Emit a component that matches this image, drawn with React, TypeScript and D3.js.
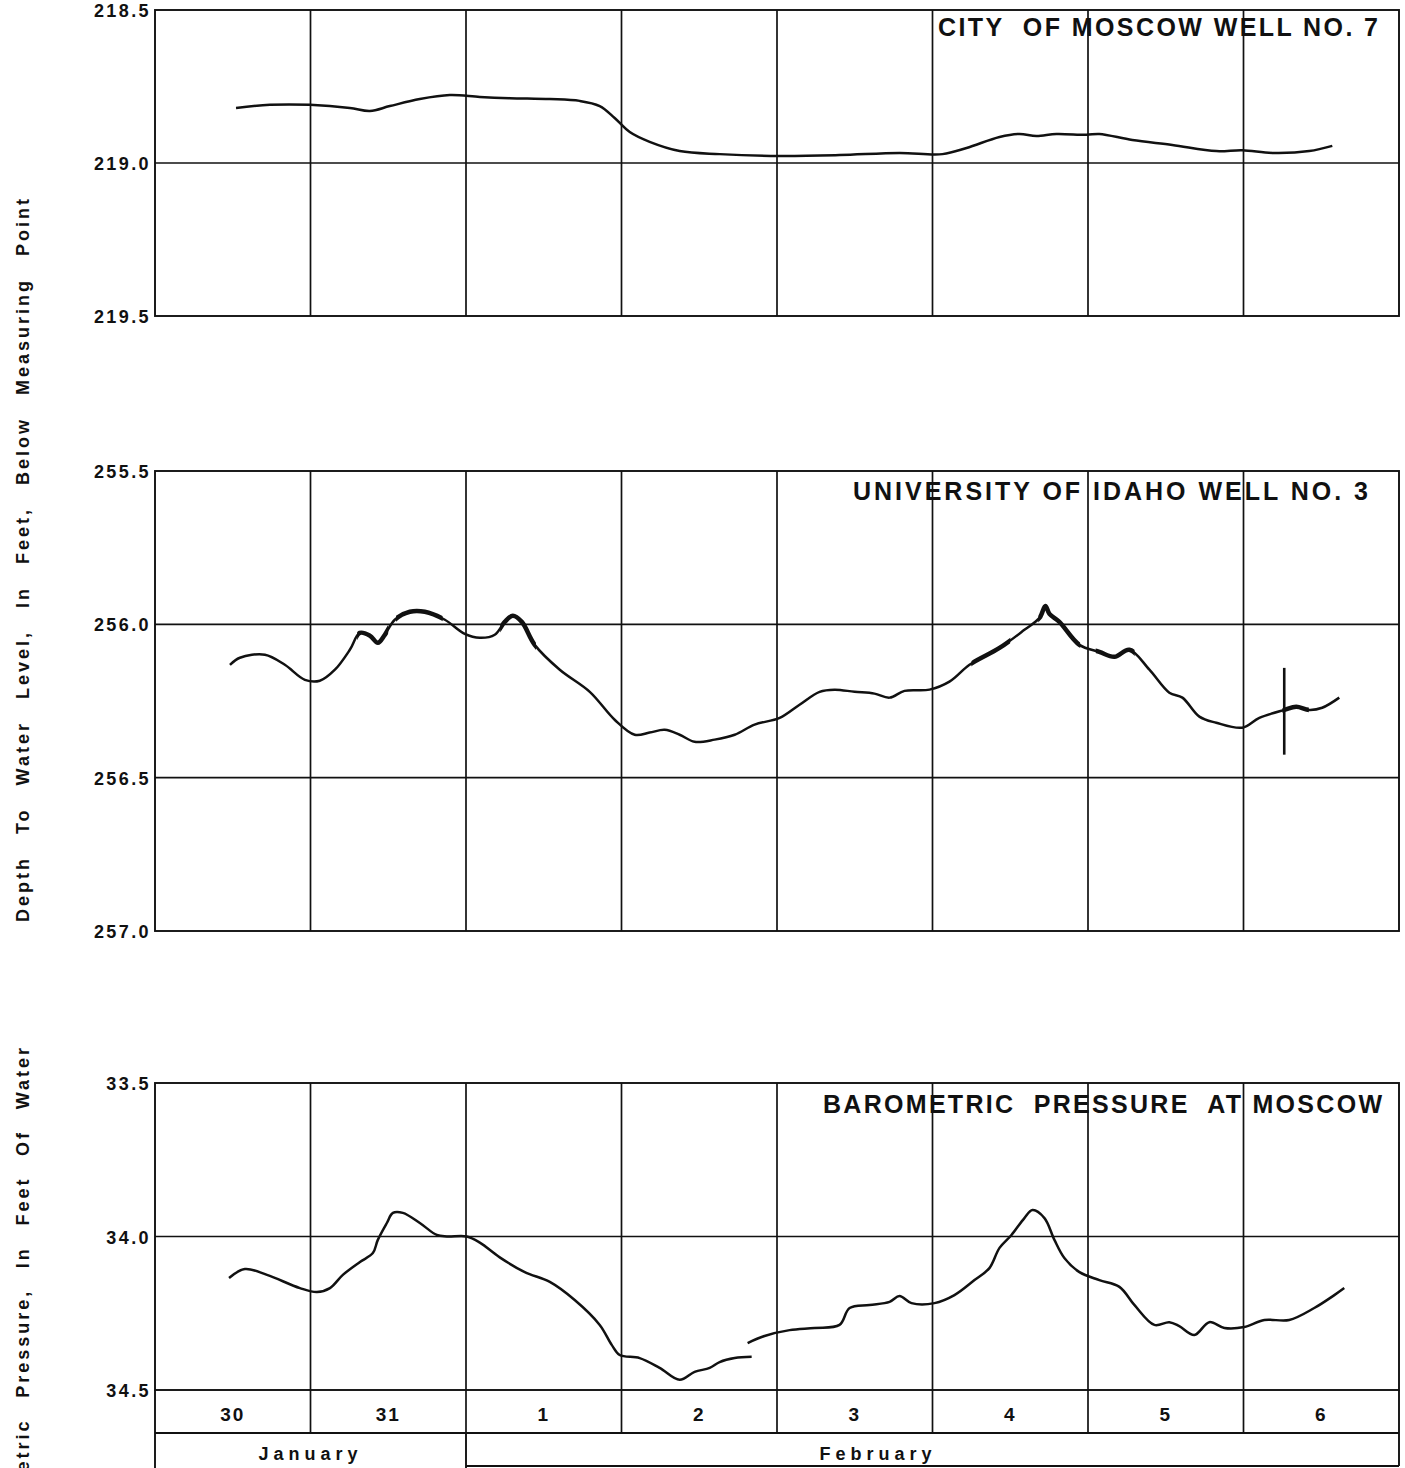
import React from 'react';
import * as d3 from 'd3';

// ---------- DATA ----------
// x = days elapsed since 00:00 January 30
const dayLabels = ['30', '31', '1', '2', '3', '4', '5', '6'];
const monthNames = ['January', 'February'];
const monthStartDay = [0, 2];

const well7Ticks = [218.5, 219.0, 219.5];
const well3Ticks = [255.5, 256.0, 256.5, 257.0];
const baroTicks = [33.5, 34.0, 34.5];

const well7Title = 'CITY  OF MOSCOW WELL NO. 7';
const well3Title = 'UNIVERSITY OF IDAHO WELL NO. 3';
const baroTitle = 'BAROMETRIC  PRESSURE  AT MOSCOW';

const well7Depth: [number, number][] = [
  [0.521, 218.82], [0.739, 218.81], [0.996, 218.81], [1.253, 218.82], [1.382, 218.83],
  [1.51, 218.814], [1.703, 218.791], [1.896, 218.778], [2.089, 218.784], [2.282, 218.788],
  [2.539, 218.791], [2.731, 218.797], [2.86, 218.814], [2.956, 218.853], [3.053, 218.899],
  [3.181, 218.931], [3.374, 218.961], [3.631, 218.971], [4.017, 218.977], [4.402, 218.974],
  [4.788, 218.967], [5.064, 218.971], [5.219, 218.951], [5.431, 218.915], [5.559, 218.905],
  [5.668, 218.912], [5.797, 218.905], [5.99, 218.908], [6.073, 218.905], [6.285, 218.925],
  [6.542, 218.941], [6.825, 218.961], [6.992, 218.958], [7.185, 218.967], [7.423, 218.961],
  [7.571, 218.944],
];

const well3Depth: [number, number][] = [
  [0.482, 256.132], [0.546, 256.109], [0.707, 256.099], [0.835, 256.132], [0.964, 256.181],
  [1.06, 256.184], [1.157, 256.148], [1.253, 256.083], [1.317, 256.028], [1.382, 256.037],
  [1.433, 256.06], [1.478, 256.034], [1.542, 255.985], [1.639, 255.959], [1.735, 255.959],
  [1.864, 255.985], [1.992, 256.031], [2.089, 256.044], [2.185, 256.034], [2.249, 255.992],
  [2.301, 255.972], [2.359, 255.992], [2.442, 256.067], [2.603, 256.148], [2.796, 256.22],
  [2.956, 256.311], [3.085, 256.36], [3.181, 256.353], [3.278, 256.344], [3.374, 256.36],
  [3.47, 256.383], [3.599, 256.376], [3.728, 256.36], [3.856, 256.327], [4.017, 256.305],
  [4.145, 256.262], [4.274, 256.22], [4.37, 256.213], [4.499, 256.22], [4.627, 256.226],
  [4.724, 256.239], [4.82, 256.217], [4.981, 256.213], [5.109, 256.187], [5.238, 256.132],
  [5.431, 256.077], [5.591, 256.018], [5.688, 255.979], [5.726, 255.94], [5.752, 255.966],
  [5.816, 255.992], [5.945, 256.067], [6.073, 256.09], [6.17, 256.106], [6.266, 256.083],
  [6.395, 256.148], [6.523, 256.223], [6.607, 256.239], [6.716, 256.301], [6.825, 256.321],
  [6.992, 256.337], [7.102, 256.305], [7.262, 256.279], [7.339, 256.269], [7.423, 256.279],
  [7.506, 256.272], [7.616, 256.239],
];
// recorder disturbance (vertical stroke) on Feb 6
const well3Spike: [number, number][] = [[7.262, 256.142], [7.262, 256.425]];
// day ranges where the recorder trace is thick / noisy
const well3NoisyRanges: [number, number][] = [
  [1.3, 1.5], [1.55, 1.85], [2.22, 2.45], [5.25, 5.5], [5.68, 5.95], [6.05, 6.3], [7.25, 7.42],
];

const baroSegment1: [number, number][] = [
  [0.476, 34.135], [0.578, 34.106], [0.72, 34.125], [0.932, 34.168], [1.041, 34.181],
  [1.125, 34.168], [1.208, 34.125], [1.318, 34.083], [1.401, 34.054], [1.433, 34.011],
  [1.491, 33.956], [1.53, 33.923], [1.594, 33.923], [1.703, 33.956], [1.812, 33.995],
  [1.877, 34.0], [2.005, 34.0], [2.089, 34.02], [2.217, 34.068], [2.378, 34.116],
  [2.539, 34.148], [2.699, 34.207], [2.86, 34.288], [2.937, 34.353], [2.988, 34.386],
  [3.117, 34.396], [3.245, 34.428], [3.374, 34.467], [3.47, 34.441], [3.567, 34.428],
  [3.631, 34.409], [3.728, 34.396], [3.837, 34.392],
];
const baroSegment2: [number, number][] = [
  [3.811, 34.347], [3.92, 34.324], [4.081, 34.305], [4.242, 34.298], [4.402, 34.288],
  [4.467, 34.233], [4.595, 34.223], [4.724, 34.213], [4.788, 34.194], [4.865, 34.217],
  [5.013, 34.217], [5.141, 34.191], [5.27, 34.142], [5.366, 34.103], [5.431, 34.037],
  [5.508, 33.995], [5.591, 33.94], [5.643, 33.914], [5.72, 33.94], [5.784, 34.011],
  [5.848, 34.07], [5.945, 34.116], [6.073, 34.142], [6.202, 34.164], [6.298, 34.223],
  [6.427, 34.288], [6.523, 34.279], [6.587, 34.292], [6.684, 34.321], [6.78, 34.279],
  [6.877, 34.298], [7.005, 34.295], [7.134, 34.272], [7.294, 34.272], [7.455, 34.233],
  [7.584, 34.191], [7.648, 34.168],
];

const yTitle1 = 'Depth  To  Water  Level,  In  Feet,  Below  Measuring  Point';
const yTitle2 = 'Barometric  Pressure,  In  Feet  Of  Water';

// ---------- LAYOUT ----------
const W = 1405;
const H = 1468;
const X0 = 155;
const X1 = 1399;
const FONT = '"Liberation Sans", Arial, "DejaVu Sans", sans-serif';

const x = d3.scaleLinear().domain([0, 8]).range([X0, X1]);

type Panel = {
  ticks: number[];
  top: number;
  bottom: number;
  title: string;
  titleX0: number;
  titleX1: number;
  titleY: number;
};

const panels: Panel[] = [
  { ticks: well7Ticks, top: 10, bottom: 316, title: well7Title, titleX0: 938, titleX1: 1378, titleY: 36 },
  { ticks: well3Ticks, top: 471, bottom: 931, title: well3Title, titleX0: 853, titleX1: 1368, titleY: 500 },
  { ticks: baroTicks, top: 1083, bottom: 1390, title: baroTitle, titleX0: 823, titleX1: 1382, titleY: 1113 },
];

const yScale = (p: Panel) =>
  d3.scaleLinear().domain([p.ticks[0], p.ticks[p.ticks.length - 1]]).range([p.top, p.bottom]);

const STROKE = '#111';

function PanelFrame({ p }: { p: Panel }) {
  const y = yScale(p);
  const days = d3.range(1, 8);
  return (
    <g>
      {p.ticks.slice(1, -1).map((t) => (
        <line key={'h' + t} x1={X0} x2={X1} y1={y(t)} y2={y(t)} stroke={STROKE} strokeWidth={1.7} />
      ))}
      {days.map((d) => (
        <line key={'v' + d} x1={x(d)} x2={x(d)} y1={p.top} y2={p.bottom} stroke={STROKE} strokeWidth={1.7} />
      ))}
      <rect x={X0} y={p.top} width={X1 - X0} height={p.bottom - p.top} fill="none" stroke={STROKE} strokeWidth={1.9} />
      {p.ticks.map((t) => (
        <text
          key={'t' + t}
          x={151}
          y={y(t) + 7}
          textAnchor="end"
          fontFamily={FONT}
          fontWeight="bold"
          fontSize={18}
          letterSpacing={2.4}
          fill={STROKE}
        >
          {t.toFixed(1)}
        </text>
      ))}
      <text
        x={p.titleX0}
        y={p.titleY}
        fontFamily={FONT}
        fontWeight="bold"
        fontSize={25}
        textLength={p.titleX1 - p.titleX0}
        lengthAdjust="spacing"
        style={{ whiteSpace: 'pre' }}
        fill={STROKE}
      >
        {p.title}
      </text>
    </g>
  );
}

export default function App() {
  const [p1, p2, p3] = panels;
  const y1 = yScale(p1);
  const y2 = yScale(p2);
  const y3 = yScale(p3);
  const curve = d3.curveCatmullRom.alpha(0.5);
  const line1 = d3.line<[number, number]>().x((d) => x(d[0])).y((d) => y1(d[1])).curve(curve);
  const line2 = d3.line<[number, number]>().x((d) => x(d[0])).y((d) => y2(d[1])).curve(curve);
  const line3 = d3.line<[number, number]>().x((d) => x(d[0])).y((d) => y3(d[1])).curve(curve);
  const lineStraight2 = d3.line<[number, number]>().x((d) => x(d[0])).y((d) => y2(d[1]));

  const dateTop = p3.bottom;
  const dateBottom = 1433;
  const monthBottom = 1466;
  const monthLabelCenter = [1, 4.65];

  return (
    <svg
      width={W}
      height={H}
      style={{ position: 'absolute', left: 0, top: 0, background: '#fff' }}
      xmlns="http://www.w3.org/2000/svg"
    >
      <defs>
        {well3NoisyRanges.map((r, i) => (
          <clipPath id={'noise' + i} key={i}>
            <rect x={x(r[0])} y={p2.top} width={x(r[1]) - x(r[0])} height={p2.bottom - p2.top} />
          </clipPath>
        ))}
      </defs>
      <rect x={0} y={0} width={W} height={H} fill="#fff" />

      {panels.map((p, i) => (
        <PanelFrame key={i} p={p} />
      ))}

      {/* traces */}
      <path d={line1(well7Depth) || ''} fill="none" stroke={STROKE} strokeWidth={2.5} />
      <path d={line2(well3Depth) || ''} fill="none" stroke={STROKE} strokeWidth={2.5} />
      {well3NoisyRanges.map((r, i) => (
        <path
          key={i}
          d={line2(well3Depth) || ''}
          fill="none"
          stroke={STROKE}
          strokeWidth={4.5}
          clipPath={`url(#noise${i})`}
        />
      ))}
      <path d={lineStraight2(well3Spike) || ''} fill="none" stroke={STROKE} strokeWidth={2.6} />
      <path d={line3(baroSegment1) || ''} fill="none" stroke={STROKE} strokeWidth={2.5} />
      <path d={line3(baroSegment2) || ''} fill="none" stroke={STROKE} strokeWidth={2.5} />

      {/* date row */}
      <line x1={X0} x2={X1} y1={dateBottom} y2={dateBottom} stroke={STROKE} strokeWidth={1.9} />
      <line x1={X0} x2={X0} y1={dateTop} y2={H} stroke={STROKE} strokeWidth={1.9} />
      <line x1={X1} x2={X1} y1={dateTop} y2={monthBottom} stroke={STROKE} strokeWidth={1.9} />
      {d3.range(1, 8).map((d) => (
        <line key={d} x1={x(d)} x2={x(d)} y1={dateTop} y2={dateBottom} stroke={STROKE} strokeWidth={1.7} />
      ))}
      {dayLabels.map((lab, i) => (
        <text
          key={lab + i}
          x={x(i + 0.5)}
          y={1421}
          textAnchor="middle"
          fontFamily={FONT}
          fontWeight="bold"
          fontSize={19}
          letterSpacing={2}
          fill={STROKE}
        >
          {lab}
        </text>
      ))}

      {/* month row */}
      {monthStartDay.slice(1).map((d) => (
        <line key={d} x1={x(d)} x2={x(d)} y1={dateBottom} y2={H} stroke={STROKE} strokeWidth={1.9} />
      ))}
      <line x1={x(monthStartDay[1])} x2={X1} y1={monthBottom} y2={monthBottom} stroke={STROKE} strokeWidth={1.9} />
      {monthNames.map((m, i) => (
        <text
          key={m}
          x={x(monthLabelCenter[i])}
          y={1460}
          textAnchor="middle"
          fontFamily={FONT}
          fontWeight="bold"
          fontSize={18}
          letterSpacing={5}
          fill={STROKE}
        >
          {m}
        </text>
      ))}

      {/* axis titles */}
      <text
        transform={`translate(29, ${559}) rotate(-90)`}
        textAnchor="middle"
        fontFamily={FONT}
        fontWeight="bold"
        fontSize={18}
        letterSpacing={3}
        wordSpacing={3}
        style={{ whiteSpace: 'pre' }}
        fill={STROKE}
      >
        {yTitle1}
      </text>
      <text
        transform={`translate(29, ${1045}) rotate(-90)`}
        textAnchor="end"
        fontFamily={FONT}
        fontWeight="bold"
        fontSize={18}
        letterSpacing={3}
        wordSpacing={2.3}
        style={{ whiteSpace: 'pre' }}
        fill={STROKE}
      >
        {yTitle2}
      </text>
    </svg>
  );
}
